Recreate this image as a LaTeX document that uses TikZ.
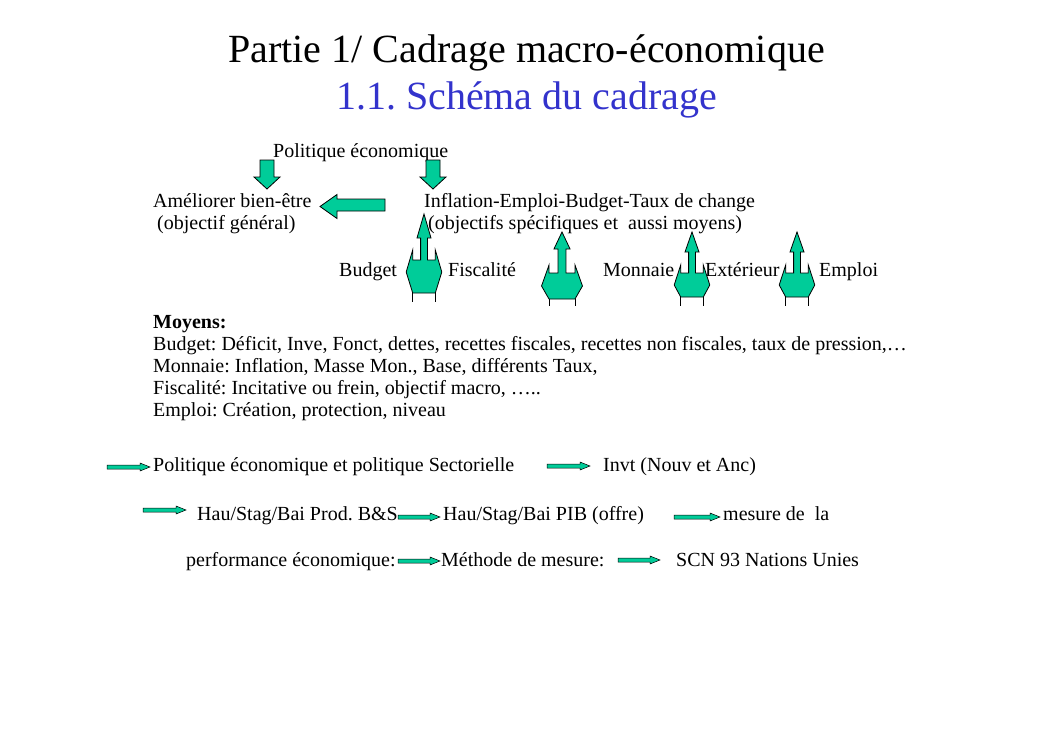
\documentclass[tikz,border=0pt]{standalone}
\usepackage{fontspec}
\setmainfont{Liberation Serif}
\frenchspacing
\definecolor{arrowgreen}{RGB}{0,204,153}
\definecolor{titleblue}{RGB}{51,51,204}
\tikzset{
  blockarrow/.style={draw=black, line width=0.8pt, fill=arrowgreen, line join=miter},
  legline/.style={draw=black, line width=0.8pt},
  txt/.style={anchor=base west, inner sep=0pt, font=\fontsize{20}{23}\selectfont},
  ttl/.style={anchor=base, inner sep=0pt, font=\fontsize{40}{46}\selectfont},
}
% thin arrow: x1, x2, y
\newcommand\thinarr[3]{%
  \draw[blockarrow, line width=0.5pt] (#1,#3-2) -- (#2-10,#3-2) -- (#2-10,#3-4) -- (#2,#3) -- (#2-10,#3+4) -- (#2-10,#3+2) -- (#1,#3+2) -- cycle;}
% thick down arrow: cx, top, head base, tip
\newcommand\downarr[4]{%
  \draw[blockarrow] (#1-7,#2) -- (#1+7,#2) -- (#1+7,#3) -- (#1+13,#3) -- (#1,#4) -- (#1-13,#3) -- (#1-7,#3) -- cycle;}
% up arrow callout: cx, tip, head base, shoulder, spike top, side tip, lower end, leg end, width factor
\newcommand\updown[9]{%
  \draw[blockarrow] (#1,#2) -- (#1+7*#9,#3) -- (#1+3.4*#9,#3) -- (#1+3.4*#9,#4) -- (#1+11.3*#9,#4) -- (#1+11.3*#9,#5) -- (#1+17.8*#9,#6) -- (#1+11.3*#9,#7) -- (#1-11.3*#9,#7) -- (#1-17.8*#9,#6) -- (#1-11.3*#9,#5) -- (#1-11.3*#9,#4) -- (#1-3.4*#9,#4) -- (#1-3.4*#9,#3) -- (#1-7*#9,#3) -- cycle;
  \draw[legline] (#1-11.3*#9,#7) -- (#1-11.3*#9,#8) (#1+11.3*#9,#7) -- (#1+11.3*#9,#8);}
\begin{document}
\begin{tikzpicture}[x=1pt,y=-1pt]
\useasboundingbox[fill=white] (0,0) rectangle (1053,744);
% titles
\node[ttl] (title) at (526.5,62) {Partie 1/ Cadrage macro-économique};
\node[ttl, text=titleblue] (subtitle) at (526.5,109) {1.1. Schéma du cadrage};
% upper scheme
\node[txt] (polit) at (273,157) {Politique économique};
\node[txt] (amel) at (153,207) {Améliorer bien-être};
\node[txt] (objg) at (157,229) {(objectif général)};
\node[txt] (infl) at (424,207) {Inflation-Emploi-Budget-Taux de change};
\node[txt] (objs) at (428,229) {(objectifs spécifiques et \ aussi moyens)};
\node[txt] (budget) at (339,276) {Budget};
\node[txt] (fisc) at (448,276) {Fiscalité};
\node[txt] (monn) at (603,276) {Monnaie};
\node[txt] (exter) at (705,276) {Extérieur};
\node[txt] (empl) at (819,276) {Emploi};
% moyens
\node[txt] (moy) at (153,328) {\bfseries Moyens:};
\node[txt] (m1) at (153,350) {Budget: Déficit, Inve, Fonct, dettes, recettes fiscales, recettes non fiscales, taux de pression,…};
\node[txt] (m2) at (153,372) {Monnaie: Inflation, Masse Mon., Base, différents Taux,};
\node[txt] (m3) at (153,394) {Fiscalité: Incitative ou frein, objectif macro, …..};
\node[txt] (m4) at (153,416) {Emploi: Création, protection, niveau};
% lower chain
\node[txt] (pes) at (153,471) {Politique économique et politique Sectorielle};
\node[txt] (invt) at (603,471) {Invt (Nouv et Anc)};
\node[txt] (hau1) at (197,520) {Hau/Stag/Bai Prod. B\&S};
\node[txt] (hau2) at (443,520) {Hau/Stag/Bai PIB (offre)};
\node[txt] (mes) at (723,520) {mesure de \ la};
\node[txt] (perf) at (186,566) {performance économique:};
\node[txt] (meth) at (441,566) {Méthode de mesure:};
\node[txt] (scn) at (676,566) {SCN 93 Nations Unies};
% thick arrows
\downarr{267}{160}{177}{189}
\downarr{433}{160}{177}{189}
\draw[blockarrow] (320,206.5) -- (337,194.5) -- (337,199) -- (385,199) -- (385,211) -- (337,211) -- (337,218.5) -- cycle;
\updown{424}{214}{238}{260}{250}{272}{293}{302}{1}
\updown{562}{232}{249}{273}{265}{286}{299}{306}{1.15}
\updown{692}{232}{252}{273}{265}{285}{297}{306}{1}
\updown{797}{232}{252}{273}{265}{285}{297}{306}{1}
% thin arrows
\thinarr{107}{150}{467}
\thinarr{547}{590}{466}
\thinarr{143}{186}{510}
\thinarr{398}{440}{517}
\thinarr{674}{720}{517}
\thinarr{398}{440}{561}
\thinarr{618}{660}{560}
\end{tikzpicture}
\end{document}
